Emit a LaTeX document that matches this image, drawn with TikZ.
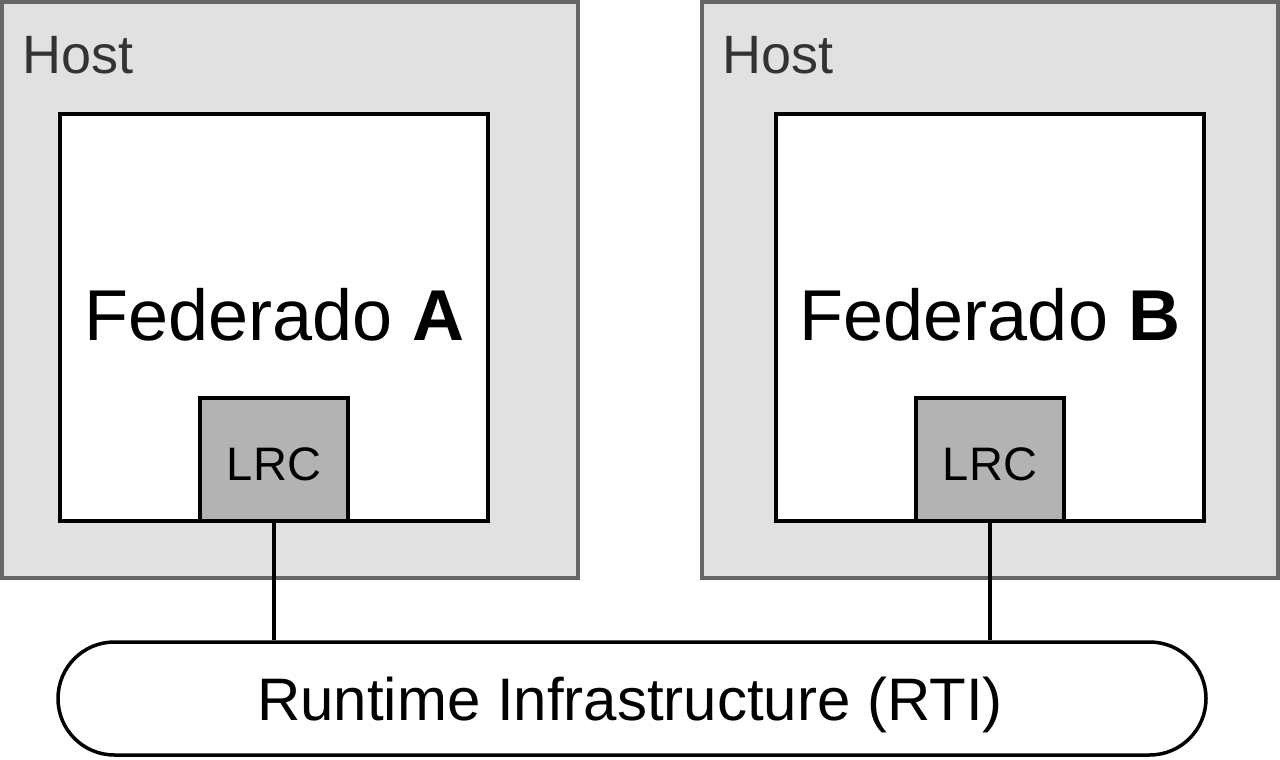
\documentclass[tikz,border=0pt]{standalone}
\usepackage{fontspec}
\setmainfont{Liberation Sans}
\definecolor{hostfill}{HTML}{E1E1E1}
\definecolor{hostline}{HTML}{666666}
\definecolor{hosttext}{HTML}{333333}
\definecolor{lrcfill}{HTML}{B3B3B3}
\begin{document}
\begin{tikzpicture}[x=0.5pt,y=-0.5pt,
  hostbox/.style={draw=hostline,fill=hostfill,line width=2pt,minimum width=288pt,minimum height=288pt,inner sep=0pt},
  fedbox/.style={draw=black,fill=white,line width=1.75pt,minimum width=214pt,minimum height=203.5pt,inner sep=0pt},
  lrcbox/.style={draw=black,fill=lrcfill,line width=1.75pt,minimum width=74pt,minimum height=61.5pt,inner sep=0pt},
  rtibox/.style={draw=black,fill=white,line width=1.75pt,minimum width=574pt,minimum height=56.5pt,inner sep=0pt,rounded corners=28.2pt},
  hostlabel/.style={anchor=base west,inner sep=0pt,text=hosttext,font=\fontsize{27pt}{30pt}\selectfont},
  fedlabel/.style={anchor=base,inner sep=0pt,font=\fontsize{36pt}{40pt}\selectfont},
  lrclabel/.style={anchor=base,inner sep=0pt,font=\fontsize{23.5pt}{26pt}\selectfont},
  rtilabel/.style={anchor=base,inner sep=0pt,font=\fontsize{30pt}{33pt}\selectfont},
  link/.style={draw=black,line width=1.75pt}]
\useasboundingbox (0,0) rectangle (1280,760);
% hosts
\node[hostbox] (hostA) at (290,290) {};
\node[hostbox] (hostB) at (990,290) {};
\node[hostlabel] (hostAl) at (22,73) {Host};
\node[hostlabel] (hostBl) at (722,73) {Host};
% federates
\node[fedbox] (fedA) at (274,317.5) {};
\node[fedbox] (fedB) at (990,317.5) {};
\node[fedlabel] (fedAl) at (274.5,340) {Federado \textbf{A}};
\node[fedlabel] (fedBl) at (990,340) {Federado \textbf{B}};
% LRC
\node[lrcbox] (lrcA) at (274,459.5) {};
\node[lrcbox] (lrcB) at (990,459.5) {};
\node[lrclabel] (lrcAl) at (274,480) {LRC};
\node[lrclabel] (lrcBl) at (990,480) {LRC};
% RTI
\node[rtibox] (rti) at (632,698.5) {};
\node[rtilabel] (rtil) at (630,720) {Runtime Infrastructure (RTI)};
% links
\draw[link] (lrcA.south) -- (lrcA.south |- rti.north);
\draw[link] (lrcB.south) -- (lrcB.south |- rti.north);
\end{tikzpicture}
\end{document}
